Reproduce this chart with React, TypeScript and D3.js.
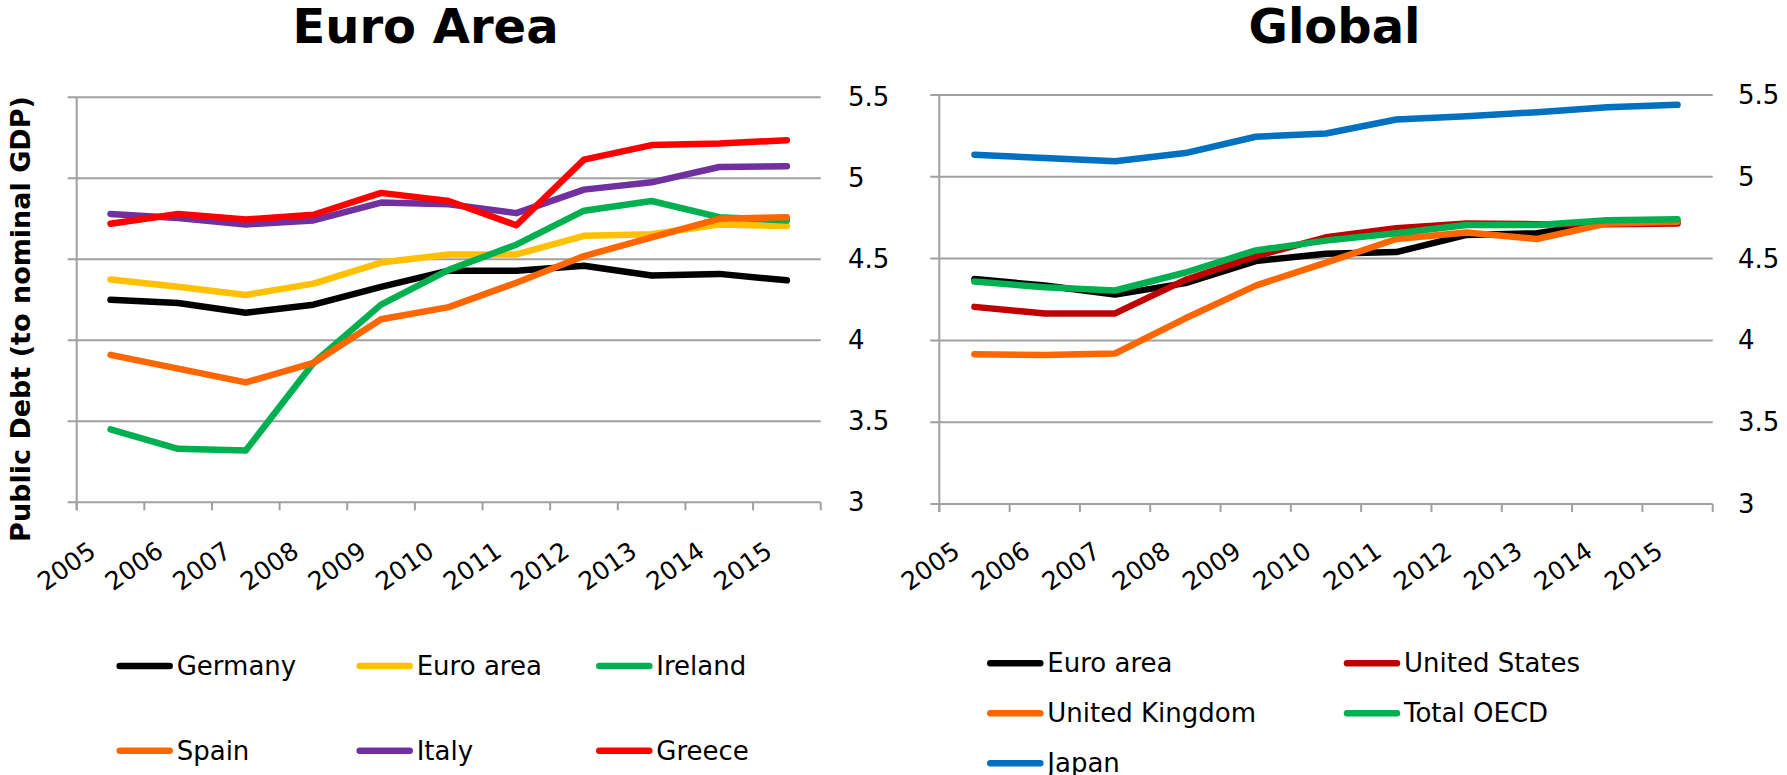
import React from 'react';
import * as d3 from 'd3';

// Years along the category axis
const years = ['2005', '2006', '2007', '2008', '2009', '2010', '2011', '2012', '2013', '2014', '2015'];
const yTicks = [3, 3.5, 4, 4.5, 5, 5.5];

// Euro Area panel — public debt to nominal GDP (log scale values)
const germany = [4.25, 4.23, 4.17, 4.22, 4.33, 4.43, 4.43, 4.46, 4.4, 4.41, 4.37];
const euroArea = [4.375, 4.33, 4.28, 4.35, 4.48, 4.53, 4.53, 4.645, 4.655, 4.715, 4.705];
const ireland = [3.45, 3.33, 3.32, 3.86, 4.22, 4.435, 4.59, 4.8, 4.86, 4.76, 4.74];
const spain = [3.91, 3.825, 3.74, 3.86, 4.13, 4.205, 4.355, 4.52, 4.635, 4.75, 4.76];
const italy = [4.78, 4.755, 4.715, 4.74, 4.85, 4.84, 4.785, 4.93, 4.975, 5.07, 5.075];
const greece = [4.72, 4.78, 4.745, 4.775, 4.91, 4.86, 4.71, 5.115, 5.205, 5.215, 5.235];

// Global panel
const euroAreaG = [4.375, 4.335, 4.28, 4.35, 4.485, 4.53, 4.54, 4.645, 4.655, 4.72, 4.725];
const unitedStates = [4.205, 4.165, 4.165, 4.37, 4.515, 4.63, 4.685, 4.715, 4.71, 4.71, 4.715];
const unitedKingdom = [3.915, 3.91, 3.92, 4.135, 4.335, 4.475, 4.62, 4.66, 4.62, 4.715, 4.725];
const totalOecd = [4.36, 4.325, 4.305, 4.415, 4.55, 4.61, 4.655, 4.705, 4.705, 4.735, 4.74];
const japan = [5.135, 5.115, 5.095, 5.145, 5.245, 5.265, 5.35, 5.37, 5.395, 5.425, 5.44];

type Series = { name: string; color: string; values: number[] };

const euroSeries: Series[] = [
  { name: 'Germany', color: '#000000', values: germany },
  { name: 'Euro area', color: '#FFC000', values: euroArea },
  { name: 'Ireland', color: '#00B050', values: ireland },
  { name: 'Spain', color: '#FF6600', values: spain },
  { name: 'Italy', color: '#7030A0', values: italy },
  { name: 'Greece', color: '#FF0000', values: greece },
];

const globalSeries: Series[] = [
  { name: 'Euro area', color: '#000000', values: euroAreaG },
  { name: 'United States', color: '#C00000', values: unitedStates },
  { name: 'United Kingdom', color: '#FF6600', values: unitedKingdom },
  { name: 'Total OECD', color: '#00B050', values: totalOecd },
  { name: 'Japan', color: '#0070C0', values: japan },
];

const FONT = '"DejaVu Sans", Verdana, sans-serif';
const GRID = '#A0A0A0';
const STROKE = 6.5;

type PanelProps = {
  title: string;
  titleX: number;
  series: Series[];
  left: number;
  right: number;
  top: number;
  bottom: number;
  labelX: number;
  legendCols: number[];
  legendRows: number[];
};

function Panel({ title, titleX, series, left, right, top, bottom, labelX, legendCols, legendRows }: PanelProps) {
  const x = d3.scaleBand<string>().domain(years).range([left, right]);
  const bw = x.bandwidth();
  const y = d3.scaleLinear().domain([3, 5.5]).range([bottom, top]);
  const line = d3
    .line<number>()
    .x((_, i) => (x(years[i]) as number) + bw / 2)
    .y((d) => y(d));

  const boundaries = years.map((yr) => x(yr) as number).concat([right]);
  const nCols = legendCols.length;

  return (
    <g>
      <text x={titleX} y={43} textAnchor="middle" fontFamily={FONT} fontWeight="bold" fontSize={48}>
        {title}
      </text>

      {yTicks.map((t) => (
        <g key={t}>
          <line x1={left - 9} x2={right} y1={y(t)} y2={y(t)} stroke={GRID} strokeWidth={2} />
          <text x={labelX} y={y(t)} dominantBaseline="central" fontFamily={FONT} fontSize={26} fill="#000">
            {t}
          </text>
        </g>
      ))}
      <line x1={left} x2={left} y1={top} y2={bottom + 8} stroke={GRID} strokeWidth={2} />
      {boundaries.map((bx, i) => (
        <line key={i} x1={bx} x2={bx} y1={bottom} y2={bottom + 8} stroke={GRID} strokeWidth={2} />
      ))}

      {years.map((yr) => {
        const cx = (x(yr) as number) + bw / 2 - 13;
        return (
          <text
            key={yr}
            transform={`translate(${cx},${555}) rotate(-35)`}
            textAnchor="end"
            fontFamily={FONT}
            fontSize={25}
            fill="#000"
          >
            {yr}
          </text>
        );
      })}

      {series.map((s) => (
        <path
          key={s.name}
          d={line(s.values) || ''}
          fill="none"
          stroke={s.color}
          strokeWidth={STROKE}
          strokeLinecap="round"
          strokeLinejoin="round"
        />
      ))}

      {series.map((s, i) => {
        const lx = legendCols[i % nCols];
        const ly = legendRows[Math.floor(i / nCols)];
        return (
          <g key={s.name}>
            <line x1={lx + 3} x2={lx + 53} y1={ly} y2={ly} stroke={s.color} strokeWidth={STROKE} strokeLinecap="round" />
            <text x={lx + 60} y={ly} dominantBaseline="central" fontFamily={FONT} fontSize={26} fill="#000">
              {s.name}
            </text>
          </g>
        );
      })}
    </g>
  );
}

export default function App() {
  return (
    <svg
      width={1787}
      height={775}
      style={{ position: 'absolute', left: 0, top: 0, background: '#fff' }}
    >
      <rect x={0} y={0} width={1787} height={775} fill="#fff" />
      <text
        transform="translate(20,319) rotate(-90)"
        textAnchor="middle"
        dominantBaseline="central"
        fontFamily={FONT}
        fontWeight="bold"
        fontSize={27}
      >
        Public Debt (to nominal GDP)
      </text>
      <Panel
        title="Euro Area"
        titleX={425.5}
        series={euroSeries}
        left={76.7}
        right={820.7}
        top={97.3}
        bottom={502.3}
        labelX={848}
        legendCols={[116.7, 356.7, 596.3]}
        legendRows={[666, 750.7]}
      />
      <Panel
        title="Global"
        titleX={1334.5}
        series={globalSeries}
        left={939.3}
        right={1712.7}
        top={95}
        bottom={504}
        labelX={1738}
        legendCols={[987.3, 1344]}
        legendRows={[663.3, 713.3, 763.3]}
      />
    </svg>
  );
}
